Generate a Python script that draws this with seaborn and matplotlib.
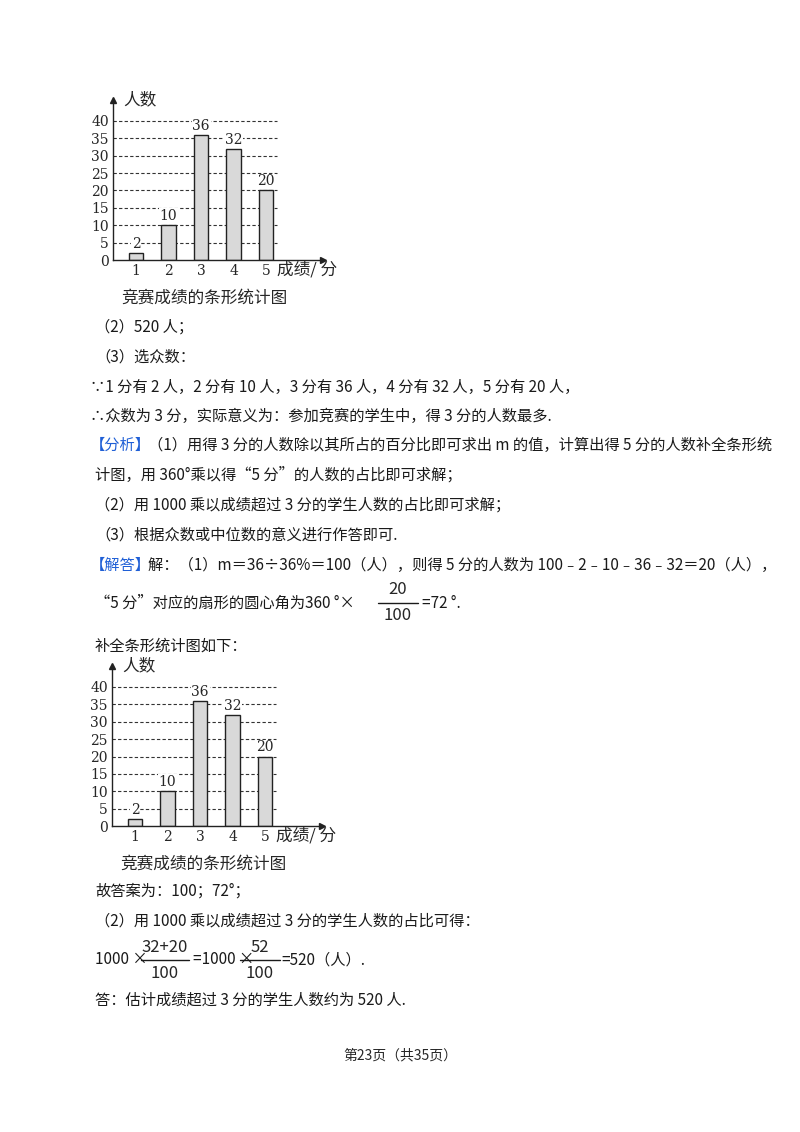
import matplotlib
matplotlib.use("Agg")
import matplotlib.pyplot as plt
import seaborn as sns
import pandas as pd

sns.set_theme(style="white")
plt.rcParams['font.family'] = ['Noto Sans CJK SC', 'DejaVu Sans']

scores = [1, 2, 3, 4, 5]
counts = [2, 10, 36, 32, 20]
yticks = [0, 5, 10, 15, 20, 25, 30, 35, 40]

W, H = 800, 1132
fig = plt.figure(figsize=(8, 11.32), dpi=100)

def chart(y0_px, yaxis_px):
    unit = 139 / 40
    ax = fig.add_axes([yaxis_px / W, 1 - y0_px / H, 210 / W, 46 * unit / H])
    df = pd.DataFrame({"score": scores, "count": counts})
    ax.bar(df["score"], df["count"], width=0.45, color="#d9d9d9", edgecolor="#222", linewidth=1, zorder=2)
    ax.set_xlim(0.29, 6.75)
    ax.set_ylim(0, 46)
    for y in yticks[1:]:
        ax.plot([0.29, 5.35], [y, y], ls=(0, (3, 2)), color="#333", lw=0.8, zorder=0)
    for s, c in zip(scores, counts):
        ax.text(s, c + 0.6, str(c), ha="center", va="bottom", fontsize=10, family="DejaVu Serif",
                bbox=dict(facecolor="white", edgecolor="none", pad=0.5), zorder=3)
    for sp in ["top", "right"]:
        ax.spines[sp].set_visible(False)
    for sp in ["left", "bottom"]:
        ax.spines[sp].set_color("#222")
        ax.spines[sp].set_linewidth(1)
    ax.plot(0.29, 46, marker="^", color="#222", ms=5, clip_on=False)
    ax.plot(6.75, 0, marker=">", color="#222", ms=5, clip_on=False)
    ax.set_yticks(yticks)
    ax.set_yticklabels([str(v) for v in yticks], fontsize=10, family="DejaVu Serif")
    ax.set_xticks(scores)
    ax.set_xticklabels([str(v) for v in scores], fontsize=10, family="DejaVu Serif")
    ax.tick_params(length=0, pad=3)
    ax.text(0.6, 46, "人数", fontsize=12, va="center")
    ax.text(5.35, -3, "成绩/ 分", fontsize=12, va="center")
    ax.text(3.1, -11, "竞赛成绩的条形统计图", fontsize=12, ha="center", va="center")
    ax.patch.set_alpha(0)

chart(260, 113)
chart(826, 112)

lines = [
    (95, 327, "（2）520 人；", "k"),
    (95, 357, "（3）选众数：", "k"),
    (90, 387, "∵1 分有 2 人，2 分有 10 人，3 分有 36 人，4 分有 32 人，5 分有 20 人，", "k"),
    (90, 416, "∴众数为 3 分，实际意义为：参加竞赛的学生中，得 3 分的人数最多.", "k"),
    (90, 445, "【分析】（1）用得 3 分的人数除以其所占的百分比即可求出 m 的值，计算出得 5 分的人数补全条形统", "mix"),
    (95, 475, "计图，用 360°乘以得“5 分”的人数的占比即可求解；", "k"),
    (95, 505, "（2）用 1000 乘以成绩超过 3 分的学生人数的占比即可求解；", "k"),
    (95, 535, "（3）根据众数或中位数的意义进行作答即可.", "k"),
    (90, 565, "【解答】解：（1）m＝36÷36%＝100（人），则得 5 分的人数为 100﹣2﹣10﹣36﹣32＝20（人），", "mix"),
    (95, 603, "“5 分”对应的扇形的圆心角为", "k"),
    (305, 603, "360 °×", "k"),
    (422, 603, "=72 °.", "k"),
    (95, 646, "补全条形统计图如下：", "k"),
    (95, 891, "故答案为：100；72°；", "k"),
    (95, 921, "（2）用 1000 乘以成绩超过 3 分的学生人数的占比可得：", "k"),
    (95, 960, "1000 ×", "k"),
    (193, 960, "=1000 ×", "k"),
    (281, 960, "=520（人）.", "k"),
    (95, 1000, "答：估计成绩超过 3 分的学生人数约为 520 人.", "k"),
]
for x, y, t, c in lines:
    if c == "mix":
        fig.text(x / W, 1 - y / H, t[:4], color="#1f5fd6", fontsize=11, va="center")
        fig.text((x + 58) / W, 1 - y / H, t[4:], color="k", fontsize=11, va="center")
    else:
        fig.text(x / W, 1 - y / H, t, color="k", fontsize=11, va="center")

def frac(xc, yc, num, den, half=20):
    fig.text(xc / W, 1 - (yc - 13) / H, num, ha="center", va="center", fontsize=12)
    fig.text(xc / W, 1 - (yc + 13) / H, den, ha="center", va="center", fontsize=12)
    fig.add_artist(plt.Line2D([(xc - half) / W, (xc + half) / W], [1 - yc / H] * 2, color="k", lw=1))

frac(398, 603, "20", "100")
frac(165, 960, "32+20", "100", 24)
frac(260, 960, "52", "100")

fig.text(400 / W, 1 - 1055 / H, "第23页（共35页）", ha="center", va="center", fontsize=10)

fig.savefig("out.png", dpi=100)
